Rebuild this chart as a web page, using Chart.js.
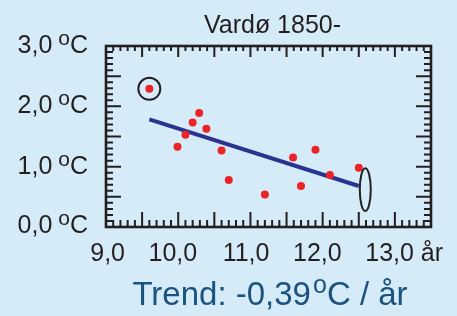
<!DOCTYPE html>
<html>
<head>
    <title>Vardø 1850-</title>
    <meta charset="utf-8" />
    <script src="https://cdn.jsdelivr.net/npm/chart.js"></script>
    <style>
        body {
            margin: 0;
            padding: 0;
            background: #d5ecf8;
            font-family: "Liberation Sans", Arial, sans-serif;
            overflow: hidden;
        }

        #wrap {
            position: relative;
            width: 457px;
            height: 316px;
        }

        #title {
            position: absolute;
            top: 12px;
            left: 100px;
            width: 345px;
            text-align: center;
            font-size: 25px;
            line-height: 25px;
            color: #231f20;
        }

        #trend {
            position: absolute;
            top: 277px;
            left: 83px;
            width: 374px;
            text-align: center;
            font-size: 33px;
            line-height: 33px;
            color: #1b527f;
        }

        .deg {
            font-size: 25px;
            vertical-align: 12px;
            line-height: 0;
            margin-left: 2px;
        }
    </style>
</head>
<body>
    <div id="wrap">
        <canvas id="chart" width="457" height="316"></canvas>
        <div id="title">Vardø 1850-</div>
        <div id="trend">Trend: -0,39<span class="deg">o</span>C / år</div>
    </div>

    <script>
        // sykluslengde (år) og temperatur (°C)
        const cycleLength = [9.60, 9.99, 10.10, 10.20, 10.29, 10.39, 10.60, 10.70, 11.20, 11.59, 11.70, 11.90, 12.10, 12.50];
        const temperature = [2.29, 1.33, 1.53, 1.73, 1.89, 1.63, 1.27, 0.78, 0.54, 1.15, 0.68, 1.28, 0.86, 0.98];
        const outlierIndex = 0;

        const trendX = [9.60, 12.50];
        const trendY = [1.785, 0.68];

        // markert område (ellipse) ved siste syklus
        const markX = 12.59;
        const markYLow = 0.265;
        const markYHigh = 0.975;
        const markHalfWidth = 0.076;

        const xTickValues = [9, 10, 11, 12, 13];
        const xTickLabels = ["9,0", "10,0", "11,0", "12,0", "13,0"];
        const xUnit = "år";
        const yTickValues = [0, 1, 2, 3];
        const yTickLabels = ["0,0", "1,0", "2,0", "3,0"];

        const ink = "#231f20";
        const labelFont = '25px "Liberation Sans", Arial, sans-serif';
        const degFont = '21px "Liberation Sans", Arial, sans-serif';

        const framePlugin = {
            id: "frame",
            beforeDatasetsDraw(chart) {
                const { ctx, chartArea: a, scales: { x, y } } = chart;
                ctx.save();
                ctx.strokeStyle = ink;
                ctx.lineWidth = 2;

                // ticks inn mot plottet, 0,1 mellom hver
                for (let i = 91; i < 135; i++) {
                    const px = x.getPixelForValue(i / 10);
                    const major = i % 5 === 0;
                    ctx.beginPath();
                    ctx.moveTo(px, a.bottom);
                    ctx.lineTo(px, a.bottom - (major ? 15 : 7));
                    ctx.moveTo(px, a.top);
                    ctx.lineTo(px, a.top + (major ? 11 : 5));
                    ctx.stroke();
                }
                for (let i = 1; i < 30; i++) {
                    const py = y.getPixelForValue(i / 10);
                    const major = i % 5 === 0;
                    ctx.beginPath();
                    ctx.moveTo(a.left, py);
                    ctx.lineTo(a.left + (major ? 15 : 7), py);
                    ctx.moveTo(a.right, py);
                    ctx.lineTo(a.right - (major ? 15 : 7), py);
                    ctx.stroke();
                }

                ctx.lineWidth = 2.6;
                ctx.strokeRect(a.left, a.top, a.width, a.height);

                // x-etiketter
                ctx.fillStyle = ink;
                ctx.font = labelFont;
                ctx.textBaseline = "alphabetic";
                xTickValues.forEach((v, i) => {
                    const px = x.getPixelForValue(v);
                    ctx.textAlign = "right";
                    ctx.fillText(xTickLabels[i], px + 19, 261);
                    if (i === xTickValues.length - 1) {
                        ctx.textAlign = "left";
                        ctx.fillText(" " + xUnit, px + 19, 261);
                    }
                });

                // y-etiketter med hevet o
                yTickValues.forEach((v, i) => {
                    const py = y.getPixelForValue(v);
                    const base = v === 0 ? py + 6 : py + 7;
                    const right = 88;
                    ctx.font = labelFont;
                    ctx.textAlign = "right";
                    ctx.fillText("C", right, base);
                    const cw = ctx.measureText("C").width;
                    ctx.font = degFont;
                    ctx.fillText("o", right - cw, base - 8);
                    const ow = ctx.measureText("o").width;
                    ctx.font = labelFont;
                    ctx.fillText(yTickLabels[i] + " ", right - cw - ow + 1, base);
                });
                ctx.restore();
            },
            afterDatasetsDraw(chart) {
                const { ctx, scales: { x, y } } = chart;
                const cx = x.getPixelForValue(markX);
                const top = y.getPixelForValue(markYHigh);
                const bottom = y.getPixelForValue(markYLow);
                const rx = x.getPixelForValue(markX + markHalfWidth) - cx;
                ctx.save();
                ctx.strokeStyle = ink;
                ctx.lineWidth = 2;
                ctx.beginPath();
                ctx.ellipse(cx, (top + bottom) / 2, rx, (bottom - top) / 2, 0, 0, Math.PI * 2);
                ctx.stroke();
                ctx.restore();
            }
        };

        const points = cycleLength.map((v, i) => ({ x: v, y: temperature[i] }));

        new Chart(document.getElementById("chart"), {
            type: "scatter",
            data: {
                datasets: [
                    {
                        data: points,
                        backgroundColor: "#ec2327",
                        borderWidth: 0,
                        pointRadius: 4,
                        order: 1
                    },
                    {
                        data: [points[outlierIndex]],
                        backgroundColor: "transparent",
                        borderColor: ink,
                        borderWidth: 2,
                        pointRadius: 11,
                        order: 2
                    },
                    {
                        type: "line",
                        data: trendX.map((v, i) => ({ x: v, y: trendY[i] })),
                        borderColor: "#2b3390",
                        borderWidth: 4,
                        pointRadius: 0,
                        order: 3
                    }
                ]
            },
            options: {
                responsive: false,
                animation: false,
                devicePixelRatio: 1,
                layout: { padding: { left: 106, right: 26, top: 46, bottom: 89 } },
                plugins: {
                    legend: { display: false },
                    tooltip: { enabled: false }
                },
                scales: {
                    x: { type: "linear", min: 9, max: 13.5, display: false },
                    y: { type: "linear", min: 0, max: 3, display: false }
                }
            },
            plugins: [framePlugin]
        });
    </script>
</body>
</html>
